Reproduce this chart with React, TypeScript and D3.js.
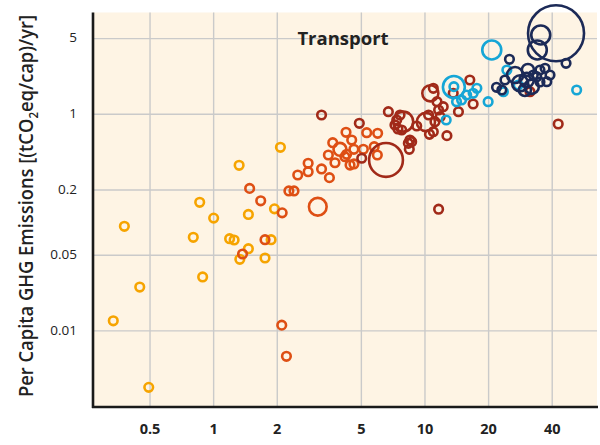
import React from "react";
import * as d3 from "d3";

// [GDP per capita (thousand US$), per-capita transport emissions (tCO2eq/cap/yr), total emissions (Mt)]
const lowIncome: number[][] = [
  [2.07, 0.496, 5], [1.32, 0.338, 5], [0.859, 0.154, 5], [1.0, 0.11, 5], [0.378, 0.0924, 5],
  [0.801, 0.0732, 5], [1.19, 0.071, 5], [1.25, 0.0691, 5], [1.46, 0.119, 5], [1.94, 0.134, 5],
  [1.87, 0.0695, 5], [1.46, 0.0574, 5], [1.33, 0.0458, 5], [1.75, 0.0471, 5], [0.887, 0.0315, 5],
  [0.447, 0.0254, 5], [0.335, 0.0124, 5], [0.493, 0.00301, 5],
];
const lowerMiddle: number[][] = [
  [1.48, 0.207, 5], [1.67, 0.159, 5], [2.11, 0.123, 5], [1.75, 0.0695, 5], [1.37, 0.0513, 5],
  [2.1, 0.0113, 5], [2.21, 0.00583, 5], [2.5, 0.275, 5], [2.27, 0.196, 5], [2.4, 0.196, 5],
  [2.8, 0.353, 5], [2.8, 0.295, 5], [3.24, 0.313, 5], [3.53, 0.26, 5], [3.11, 0.14, 170],
  [4.23, 0.682, 5], [4.5, 0.579, 5], [5.3, 0.676, 5], [5.97, 0.668, 5], [3.66, 0.547, 5],
  [3.96, 0.475, 90], [4.61, 0.475, 5], [5.11, 0.475, 5], [3.49, 0.421, 5], [4.26, 0.427, 5],
  [5.75, 0.502, 5], [5.95, 0.421, 5], [3.75, 0.357, 5], [4.42, 0.34, 5], [4.61, 0.348, 5],
  [4.18, 0.406, 5],
];
const upperMiddle: number[][] = [
  [3.24, 0.985, 5], [4.89, 0.826, 5], [5.02, 0.393, 5], [6.54, 0.379, 620], [11.6, 0.133, 5],
  [42.7, 0.814, 5], [6.71, 1.057, 5], [7.62, 0.985, 5], [7.89, 0.855, 217], [7.21, 0.797, 5],
  [7.45, 0.732, 5], [7.76, 0.716, 5], [9.14, 0.78, 5], [8.49, 0.579, 5], [8.34, 0.54, 5],
  [8.65, 0.558, 5], [8.43, 0.475, 5], [10.1, 0.849, 180], [10.5, 0.654, 5], [12.7, 0.635, 5],
  [10.6, 1.563, 140], [10.95, 1.738, 5], [16.3, 2.073, 5], [13.6, 1.563, 5], [11.4, 1.307, 5],
  [11.6, 1.096, 5], [12.2, 1.175, 5], [10.4, 0.985, 5], [11.15, 0.855, 5], [11.8, 0.95, 5],
  [14.4, 1.057, 5], [16.9, 1.245, 5], [10.95, 0.691, 5], [7.35, 0.886, 5], [31.4, 1.617, 5],
];
const highNonOecd: number[][] = [
  [13.7, 1.787, 260], [13.7, 1.8, 5], [20.7, 3.925, 195], [17.6, 1.738, 5], [16.9, 1.563, 5],
  [15.75, 1.507, 5], [14.1, 1.307, 5], [14.9, 1.356, 5], [19.9, 1.307, 5], [12.6, 0.886, 5],
  [24.4, 2.565, 5], [23.5, 1.617, 5], [52.2, 1.677, 5], [27.6, 1.864, 5],
];
const highOecd: number[][] = [
  [41.7, 5.6, 1700], [35.3, 5.4, 195], [34.0, 3.925, 195], [46.5, 2.958, 5], [25.1, 3.22, 5],
  [21.8, 1.776, 5], [23.9, 2.073, 5], [26.7, 2.306, 140], [28.2, 1.933, 140], [30.3, 2.073, 110],
  [32.0, 1.798, 110], [33.8, 2.224, 5], [35.0, 2.565, 5], [37.0, 2.659, 5], [39.05, 2.306, 5],
  [37.7, 2.0, 5], [29.7, 1.677, 80], [32.55, 2.306, 5], [23.1, 1.677, 5], [35.0, 1.987, 5],
  [30.7, 2.565, 80],
];

const groupColors = ["#F6A400", "#DE4F14", "#A12A19", "#16A6D6", "#1C2A57"];
const groups = [lowIncome, lowerMiddle, upperMiddle, highNonOecd, highOecd];

const xTicks = [0.5, 1, 2, 5, 10, 20, 40];
const yTicks = [0.01, 0.05, 0.2, 1, 5];

const FONT = "'Open Sans', 'Noto Sans', sans-serif";

export default function App() {
  const W = 600, H = 445;
  const left = 93, right = 597, top = 12.5, bottom = 407;
  const x = d3.scaleLog().domain([0.2686, 65.16]).range([left, right]);
  const y = d3.scaleLog().domain([0.001983, 8.71]).range([bottom, top]);
  const r = d3.scaleSqrt().domain([0, 1700]).range([0, 28]);
  const rad = (t: number) => Math.max(4.3, r(t));

  return (
    <svg width={W} height={H} style={{ position: "absolute", left: 0, top: 0 }}>
      <rect x={0} y={0} width={W} height={H} fill="#ffffff" />
      <rect x={left} y={top} width={right - left} height={bottom - top} fill="#FEF4E4" />
      {xTicks.map((t) => (
        <line key={"gx" + t} x1={x(t)} x2={x(t)} y1={top} y2={bottom} stroke="#CACACA" strokeWidth={1.4} />
      ))}
      {yTicks.map((t) => (
        <line key={"gy" + t} x1={left} x2={right} y1={y(t)} y2={y(t)} stroke="#CACACA" strokeWidth={1.4} />
      ))}
      {groups.map((g, gi) =>
        g.map((d, i) => (
          <circle
            key={gi + "-" + i}
            cx={x(d[0])}
            cy={y(d[1])}
            r={rad(d[2])}
            fill="none"
            stroke={groupColors[gi]}
            strokeWidth={2.6}
          />
        ))
      )}
      <line x1={left} x2={left} y1={top} y2={bottom + 1} stroke="#1a1a1a" strokeWidth={2.6} />
      <line x1={left - 1} x2={right + 1} y1={bottom} y2={bottom} stroke="#1a1a1a" strokeWidth={2.6} />
      {xTicks.map((t) => (
        <text key={"tx" + t} x={x(t)} y={430} textAnchor="middle" dominantBaseline="middle"
          fontFamily={FONT} fontWeight={700} fontSize={14.5} fill="#222">
          {t}
        </text>
      ))}
      {yTicks.map((t) => (
        <text key={"ty" + t} x={77} y={y(t)} textAnchor="end" dominantBaseline="middle"
          fontFamily={FONT} fontSize={13.5} fill="#222">
          {t}
        </text>
      ))}
      <text x={343} y={40} textAnchor="middle" dominantBaseline="middle" fontFamily={FONT}
        fontWeight={700} fontSize={18.5} fill="#222">
        Transport
      </text>
      <text transform="translate(33,206) rotate(-90)" textAnchor="middle" fontFamily={FONT}
        fontWeight={600} fontSize={19} fill="#222" textLength={382} lengthAdjust="spacingAndGlyphs">
        Per Capita GHG Emissions [(tCO<tspan fontSize={12} dy={5}>2</tspan><tspan dy={-5}>eq/cap)/yr]</tspan>
      </text>
    </svg>
  );
}
